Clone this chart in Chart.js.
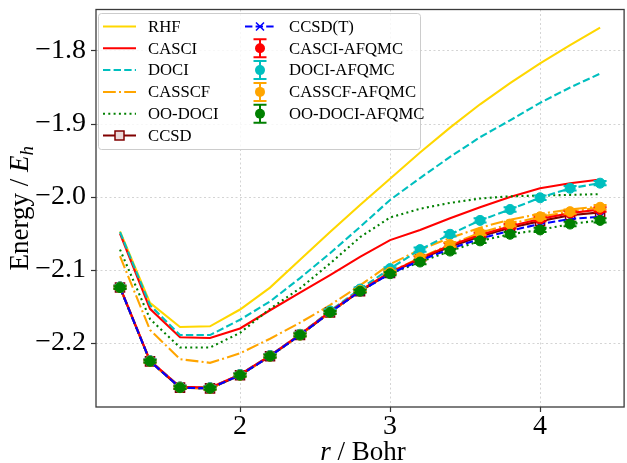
<!DOCTYPE html>
<html>
<head>
<meta charset="utf-8">
<script src="https://cdn.jsdelivr.net/npm/chart.js@4.4.1/dist/chart.umd.min.js"></script>
<style>
  html, body { margin: 0; padding: 0; overflow: hidden; background: #fff; }
  #wrap { width: 632px; height: 463px; }
</style>
</head>
<body>
<div id="wrap"><canvas id="energyChart"></canvas></div>
<script>
// bond length grid (Bohr)
const rBohr = [1.2, 1.4, 1.6, 1.8, 2.0, 2.2, 2.4, 2.6, 2.8, 3.0, 3.2, 3.4, 3.6, 3.8, 4.0, 4.2, 4.4];

// energies (E_h)
const rhf    = [-2.047, -2.145, -2.178, -2.177, -2.154, -2.124, -2.086, -2.048, -2.011, -1.975, -1.939, -1.905, -1.873, -1.844, -1.817, -1.792, -1.768];
const casci  = [-2.050, -2.153, -2.192, -2.193, -2.180, -2.155, -2.131, -2.107, -2.082, -2.059, -2.045, -2.029, -2.014, -2.000, -1.988, -1.981, -1.976];
const doci   = [-2.048, -2.148, -2.189, -2.189, -2.168, -2.143, -2.111, -2.077, -2.041, -2.004, -1.974, -1.945, -1.918, -1.895, -1.871, -1.850, -1.831];
const casscf = [-2.081, -2.182, -2.222, -2.227, -2.214, -2.194, -2.172, -2.148, -2.121, -2.092, -2.072, -2.056, -2.042, -2.031, -2.023, -2.017, -2.013];
const ooDoci = [-2.072, -2.167, -2.206, -2.206, -2.186, -2.153, -2.125, -2.091, -2.055, -2.028, -2.016, -2.008, -2.002, -1.999, -1.998, -1.997, -1.996];
const ccsd   = [-2.124, -2.225, -2.261, -2.262, -2.244, -2.218, -2.189, -2.158, -2.129, -2.104, -2.085, -2.068, -2.054, -2.042, -2.033, -2.025, -2.021];
const ccsdT  = [-2.124, -2.225, -2.261, -2.262, -2.244, -2.218, -2.189, -2.158, -2.129, -2.105, -2.087, -2.071, -2.057, -2.046, -2.037, -2.030, -2.027];

const casciAfqmc  = [-2.123, -2.224, -2.260, -2.261, -2.243, -2.217, -2.188, -2.157, -2.128, -2.103, -2.084, -2.066, -2.052, -2.040, -2.030, -2.022, -2.017];
const dociAfqmc   = [-2.123, -2.224, -2.260, -2.261, -2.243, -2.217, -2.188, -2.156, -2.126, -2.098, -2.072, -2.051, -2.032, -2.017, -2.001, -1.988, -1.981];
const casscfAfqmc = [-2.124, -2.225, -2.261, -2.262, -2.244, -2.218, -2.189, -2.158, -2.128, -2.103, -2.083, -2.065, -2.049, -2.037, -2.027, -2.020, -2.014];
const ooDociAfqmc = [-2.124, -2.225, -2.261, -2.262, -2.244, -2.218, -2.189, -2.158, -2.129, -2.105, -2.089, -2.074, -2.060, -2.051, -2.045, -2.037, -2.032];

// AFQMC statistical errors
const casciAfqmcErr  = [0.002, 0.002, 0.002, 0.002, 0.002, 0.002, 0.002, 0.002, 0.002, 0.002, 0.003, 0.003, 0.003, 0.003, 0.003, 0.003, 0.003];
const dociAfqmcErr   = [0.002, 0.002, 0.002, 0.002, 0.002, 0.002, 0.002, 0.002, 0.002, 0.002, 0.003, 0.003, 0.003, 0.003, 0.003, 0.003, 0.003];
const casscfAfqmcErr = [0.002, 0.002, 0.002, 0.002, 0.002, 0.002, 0.002, 0.002, 0.002, 0.002, 0.003, 0.003, 0.003, 0.003, 0.003, 0.003, 0.003];
const ooDociAfqmcErr = [0.002, 0.002, 0.002, 0.002, 0.002, 0.002, 0.002, 0.002, 0.002, 0.002, 0.003, 0.003, 0.003, 0.003, 0.003, 0.003, 0.003];

const xTicks = [2, 3, 4];
const yTicks = [-2.2, -2.1, -2.0, -1.9, -1.8];

const SERIF = "'Liberation Serif', 'Times New Roman', serif";
const GOLD = '#FFD700', RED = '#FF0000', CYAN = '#00BFBF', ORANGE = '#FFA500',
      GREEN = '#008000', MAROON = '#800000', BLUE = '#0000FF';
const DASHED = [7.4, 3.2], DASHDOT = [12.8, 3.2, 2, 3.2], DOTTED = [2, 3.3];

const pts = ys => ys.map((y, i) => ({x: rBohr[i], y: y}));

// z: bigger = drawn later (on top)
const lineSet = (label, ys, color, dash, z) => ({
    label, data: pts(ys), borderColor: color, borderWidth: 2.1, borderDash: dash,
    pointRadius: 0, fill: false, tension: 0, order: 100 - z
});
const dotSet = (label, ys, err, color, z) => ({
    label, data: pts(ys), errY: err, showLine: false, borderColor: color,
    pointBackgroundColor: color, pointBorderColor: color, pointRadius: 5,
    pointBorderWidth: 1, order: 100 - z
});

const datasets = [
    lineSet('RHF', rhf, GOLD, [], 1),
    lineSet('CASCI', casci, RED, [], 2),
    lineSet('DOCI', doci, CYAN, DASHED, 3),
    lineSet('CASSCF', casscf, ORANGE, DASHDOT, 4),
    lineSet('OO-DOCI', ooDoci, GREEN, DOTTED, 5),
    Object.assign(lineSet('CCSD', ccsd, MAROON, [], 6), {
        pointRadius: 6.4, pointStyle: 'rect', pointBorderColor: MAROON,
        pointBackgroundColor: 'rgba(128,0,0,0.15)', pointBorderWidth: 1.5
    }),
    lineSet('', dociAfqmc, CYAN, DASHED, 7),
    lineSet('', casscfAfqmc, ORANGE, DASHDOT, 8),
    lineSet('', ooDociAfqmc, GREEN, DOTTED, 9),
    lineSet('', casciAfqmc, RED, [], 10),
    Object.assign(lineSet('CCSD(T)', ccsdT, BLUE, DASHED, 11), {
        pointRadius: 5.6, pointStyle: 'crossRot', pointBorderColor: BLUE, pointBorderWidth: 1.5
    }),
    dotSet('CASCI-AFQMC', casciAfqmc, casciAfqmcErr, RED, 12),
    dotSet('DOCI-AFQMC', dociAfqmc, dociAfqmcErr, CYAN, 13),
    dotSet('CASSCF-AFQMC', casscfAfqmc, casscfAfqmcErr, ORANGE, 14),
    dotSet('OO-DOCI-AFQMC', ooDociAfqmc, ooDociAfqmcErr, GREEN, 15)
];

const errorBars = {
    id: 'errorBars',
    beforeDatasetDraw(chart, args) {
        const ds = chart.data.datasets[args.index];
        if (!ds.errY) return;
        const {ctx, scales: {x, y}} = chart;
        ctx.save();
        ctx.strokeStyle = ds.pointBackgroundColor;
        ctx.lineWidth = 2;
        ds.data.forEach((p, i) => {
            const px = x.getPixelForValue(p.x);
            const yTop = y.getPixelForValue(p.y + ds.errY[i]);
            const yBot = y.getPixelForValue(p.y - ds.errY[i]);
            ctx.beginPath();
            ctx.moveTo(px, yTop); ctx.lineTo(px, yBot);
            ctx.moveTo(px - 6.5, yTop); ctx.lineTo(px + 6.5, yTop);
            ctx.moveTo(px - 6.5, yBot); ctx.lineTo(px + 6.5, yBot);
            ctx.stroke();
        });
        ctx.restore();
    }
};

// legend entries, column-major like matplotlib
const legendCols = [
    [{t: 'RHF', c: GOLD, d: []}, {t: 'CASCI', c: RED, d: []}, {t: 'DOCI', c: CYAN, d: DASHED},
     {t: 'CASSCF', c: ORANGE, d: DASHDOT}, {t: 'OO-DOCI', c: GREEN, d: DOTTED},
     {t: 'CCSD', c: MAROON, d: [], m: 'rect'}],
    [{t: 'CCSD(T)', c: BLUE, d: DASHED, m: 'x'}, {t: 'CASCI-AFQMC', c: RED, m: 'err'},
     {t: 'DOCI-AFQMC', c: CYAN, m: 'err'}, {t: 'CASSCF-AFQMC', c: ORANGE, m: 'err'},
     {t: 'OO-DOCI-AFQMC', c: GREEN, m: 'err'}]
];

const decorations = {
    id: 'decorations',
    afterDatasetsDraw(chart) {
        const {ctx, chartArea: a} = chart;
        ctx.save();
        ctx.strokeStyle = '#3a3a3a';
        ctx.lineWidth = 1.3;
        ctx.strokeRect(a.left, a.top, a.right - a.left, a.bottom - a.top);
        ctx.restore();
    },
    afterDraw(chart) {
        const {ctx, chartArea: a} = chart;
        ctx.save();
        ctx.fillStyle = '#000';
        ctx.textBaseline = 'alphabetic';

        // x title: r / Bohr
        const fs = 27;
        ctx.font = `italic ${fs}px ${SERIF}`;
        const wr = ctx.measureText('r').width;
        ctx.font = `${fs}px ${SERIF}`;
        const wb = ctx.measureText(' / Bohr').width;
        let x0 = 363 - (wr + wb) / 2;
        ctx.font = `italic ${fs}px ${SERIF}`;
        ctx.fillText('r', x0, 460);
        ctx.font = `${fs}px ${SERIF}`;
        ctx.fillText(' / Bohr', x0 + wr, 460);

        // y title: Energy / E_h
        ctx.save();
        ctx.translate(28, (a.top + a.bottom) / 2);
        ctx.rotate(-Math.PI / 2);
        ctx.font = `${fs}px ${SERIF}`;
        const w1 = ctx.measureText('Energy / ').width;
        ctx.font = `italic ${fs}px ${SERIF}`;
        const w2 = ctx.measureText('E').width;
        ctx.font = `italic ${fs * 0.7}px ${SERIF}`;
        const w3 = ctx.measureText('h').width;
        let s = -(w1 + w2 + w3) / 2;
        ctx.font = `${fs}px ${SERIF}`;
        ctx.fillText('Energy / ', s, 0);
        ctx.font = `italic ${fs}px ${SERIF}`;
        ctx.fillText('E', s + w1, 0);
        ctx.font = `italic ${fs * 0.7}px ${SERIF}`;
        ctx.fillText('h', s + w1 + w2, 5);
        ctx.restore();

        // legend
        ctx.beginPath();
        ctx.roundRect(98.5, 13.5, 322, 136, 3);
        ctx.fillStyle = 'rgba(255,255,255,0.8)';
        ctx.fill();
        ctx.strokeStyle = '#cccccc';
        ctx.lineWidth = 1;
        ctx.stroke();

        const colX = [[103, 136, 148], [245, 275, 289]];
        ctx.font = `16.7px ${SERIF}`;
        ctx.textBaseline = 'middle';
        legendCols.forEach((col, ci) => {
            const [hx1, hx2, tx] = colX[ci];
            const hc = (hx1 + hx2) / 2;
            col.forEach((e, ri) => {
                const yy = 26.5 + ri * 21.8;
                ctx.strokeStyle = e.c;
                ctx.fillStyle = e.c;
                ctx.lineWidth = 2;
                if (e.m !== 'err') {
                    ctx.setLineDash(e.d);
                    ctx.beginPath();
                    ctx.moveTo(hx1, yy); ctx.lineTo(hx2, yy);
                    ctx.stroke();
                    ctx.setLineDash([]);
                }
                if (e.m === 'rect') {
                    ctx.fillStyle = '#fff';
                    ctx.fillRect(hc - 4.5, yy - 4.5, 9, 9);
                    ctx.fillStyle = 'rgba(128,0,0,0.15)';
                    ctx.fillRect(hc - 4.5, yy - 4.5, 9, 9);
                    ctx.lineWidth = 1.5;
                    ctx.strokeRect(hc - 4.5, yy - 4.5, 9, 9);
                } else if (e.m === 'x') {
                    ctx.lineWidth = 1.5;
                    ctx.beginPath();
                    ctx.moveTo(hc - 4, yy - 4); ctx.lineTo(hc + 4, yy + 4);
                    ctx.moveTo(hc - 4, yy + 4); ctx.lineTo(hc + 4, yy - 4);
                    ctx.stroke();
                } else if (e.m === 'err') {
                    ctx.beginPath();
                    ctx.moveTo(hc, yy - 9); ctx.lineTo(hc, yy + 9);
                    ctx.moveTo(hc - 6.5, yy - 9); ctx.lineTo(hc + 6.5, yy - 9);
                    ctx.moveTo(hc - 6.5, yy + 9); ctx.lineTo(hc + 6.5, yy + 9);
                    ctx.stroke();
                    ctx.beginPath();
                    ctx.arc(hc, yy, 5, 0, Math.PI * 2);
                    ctx.fill();
                }
                ctx.fillStyle = '#000';
                ctx.fillText(e.t, tx, yy + 1);
            });
        });
        ctx.restore();
    }
};

const tickFont = {family: SERIF, size: 28};

new Chart(document.getElementById('energyChart'), {
    type: 'line',
    data: {datasets},
    options: {
        responsive: true,
        maintainAspectRatio: false,
        animation: false,
        layout: {padding: {top: 9.5, right: 2, left: 0, bottom: 0}},
        plugins: {legend: {display: false}, tooltip: {enabled: false}},
        scales: {
            x: {
                type: 'linear', min: 1.04, max: 4.56,
                afterBuildTicks: s => { s.ticks = xTicks.map(v => ({value: v})); },
                afterFit: s => { s.height = 56; s.paddingLeft = 0; s.paddingRight = 0; },
                ticks: {font: tickFont, color: '#000', padding: -2, maxRotation: 0, callback: v => String(v)},
                grid: {color: '#d4d4d4', lineWidth: 1, tickLength: 5, tickColor: '#333', tickWidth: 1.2},
                border: {display: false, dash: [2, 2.5]}
            },
            y: {
                type: 'linear', min: -2.2875, max: -1.7432,
                afterBuildTicks: s => { s.ticks = yTicks.map(v => ({value: v})); },
                afterFit: s => { s.width = 96; s.paddingTop = 0; s.paddingBottom = 0; },
                ticks: {font: tickFont, color: '#000', padding: 5,
                        callback: v => (v < 0 ? '\u2212' : '') + Math.abs(v).toFixed(1)},
                grid: {color: '#d4d4d4', lineWidth: 1, tickLength: 5, tickColor: '#333', tickWidth: 1.2},
                border: {display: false, dash: [2, 2.5]}
            }
        }
    },
    plugins: [errorBars, decorations]
});
</script>
</body>
</html>
